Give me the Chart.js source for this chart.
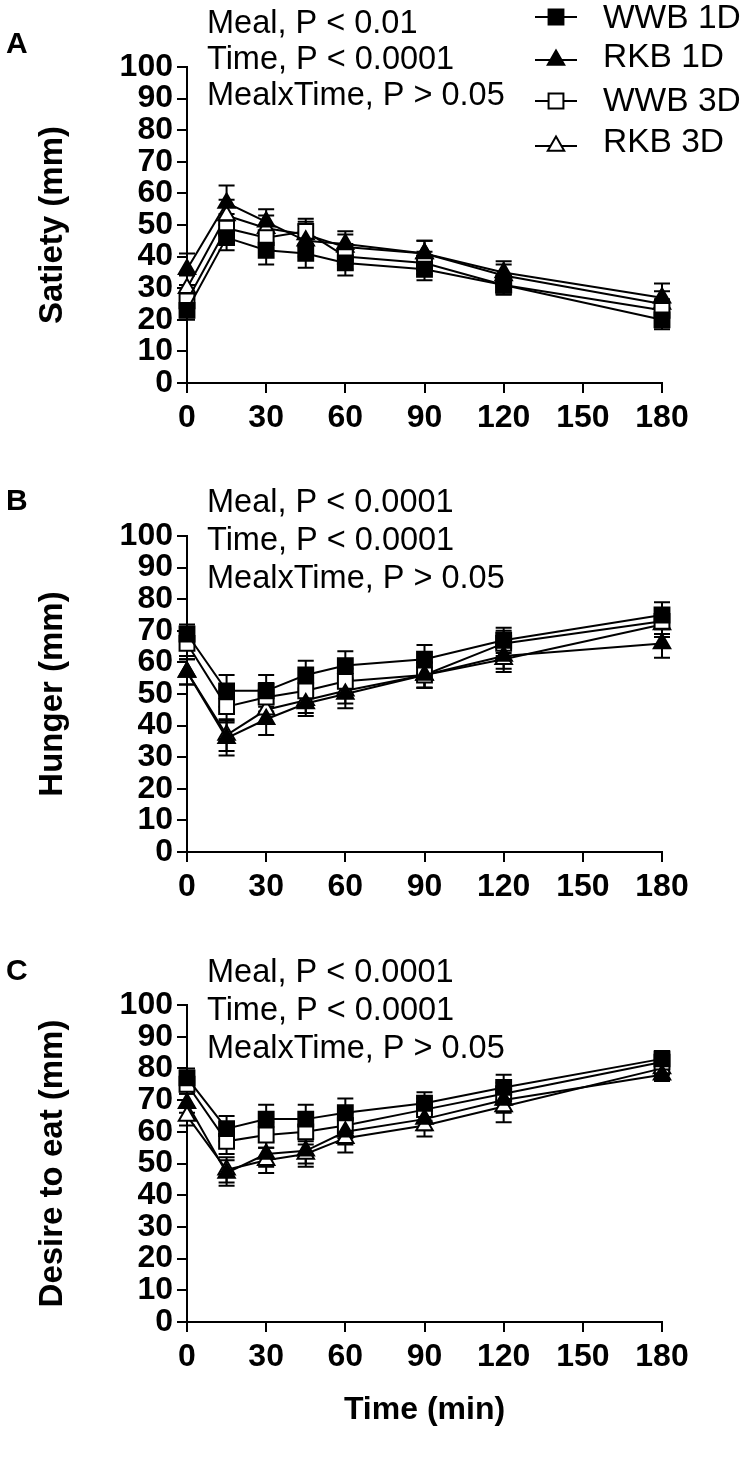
<!DOCTYPE html>
<html>
<head>
<meta charset="utf-8">
<script src="https://cdn.jsdelivr.net/npm/chart.js@4.4.1/dist/chart.umd.min.js"></script>
<style>
  html, body { margin: 0; padding: 0; background: #fff; }
  #wrap { position: relative; width: 746px; height: 1459px; }
  .panel { position: absolute; left: 0; width: 746px; }
</style>
</head>
<body>
<div id="wrap">
  <div class="panel" style="top:0;height:469px"><canvas id="chartA"></canvas></div>
  <div class="panel" style="top:469px;height:469px"><canvas id="chartB"></canvas></div>
  <div class="panel" style="top:938px;height:521px"><canvas id="chartC"></canvas></div>
</div>
<script>
// time points (min) and axis ticks
const times = [0, 15, 30, 45, 60, 90, 120, 180];
const xTicks = [0, 30, 60, 90, 120, 150, 180];
const yTicks = [0, 10, 20, 30, 40, 50, 60, 70, 80, 90, 100];
const seriesNames = ['WWB 1D', 'RKB 1D', 'WWB 3D', 'RKB 3D'];

// A - satiety (mean, SEM)
const satWWB1D = [23, 46, 42, 41, 38, 36, 31, 20];
const satRKB1D = [36, 57, 51, 45, 44, 41, 35, 27];
const satWWB3D = [26, 49, 46, 48, 40, 38, 31, 23];
const satRKB3D = [30, 53, 49, 47, 43, 41, 34, 25];
const satWWB1DSem = [3, 4, 4.5, 4.5, 4, 3.5, 3, 3];
const satRKB1DSem = [5, 5.5, 4, 5, 4, 4, 3.5, 4.5];
const satWWB3DSem = [4, 4.5, 4, 4, 4, 3.5, 3, 3.5];
const satRKB3DSem = [4, 5, 4, 4, 4, 4, 3.5, 4];

// B - hunger
const hunWWB1D = [69, 51, 51, 56, 59, 61, 67, 75];
const hunRKB1D = [57, 36, 42, 47, 50, 56, 62, 66];
const hunWWB3D = [66, 46, 49, 51, 54, 56, 66, 73];
const hunRKB3D = [57, 37, 45, 48, 51, 56, 61, 72];
const hunWWB1DSem = [3, 5, 5, 4.5, 4.5, 4.5, 4, 4];
const hunRKB1DSem = [4, 5.5, 5, 4, 4.5, 4, 4, 4.5];
const hunWWB3DSem = [4, 5, 4.5, 4, 4, 4, 4, 4];
const hunRKB3DSem = [4, 5, 4.5, 4, 4, 4, 4, 4];

// C - desire to eat
const desWWB1D = [77, 61, 64, 64, 66, 69, 74, 83];
const desRKB1D = [69, 47, 53, 54, 60, 64, 70, 78];
const desWWB3D = [75, 57, 59, 60, 62, 67, 72, 82];
const desRKB3D = [65, 48, 51, 53, 58, 62, 68, 80];
const desWWB1DSem = [3, 4, 4.5, 4.5, 4.5, 3.5, 4, 2.5];
const desRKB1DSem = [3, 4, 4, 4, 4, 3.5, 4, 2];
const desWWB3DSem = [3, 4, 4, 4, 4, 3.5, 3.5, 2.5];
const desRKB3DSem = [3, 4, 4, 4, 4.5, 3.5, 5, 2];

const statsA = ['Meal, P < 0.01', 'Time, P < 0.0001', 'MealxTime, P > 0.05'];
const statsB = ['Meal, P < 0.0001', 'Time, P < 0.0001', 'MealxTime, P > 0.05'];
const statsC = ['Meal, P < 0.0001', 'Time, P < 0.0001', 'MealxTime, P > 0.05'];

const fontFam = '"Liberation Sans", Arial, Helvetica, sans-serif';
const pointStyles = ['rect', 'triangle', 'rect', 'triangle'];
const pointFills = ['#000', '#000', '#fff', '#fff'];
const pointSizes = [10.5, 9.5, 10.5, 9.5];

// error bars, drawn under the lines and markers
const errorBars = {
  id: 'errorBars',
  beforeDatasetsDraw(chart) {
    const ctx = chart.ctx;
    const yScale = chart.scales.y;
    ctx.save();
    ctx.strokeStyle = '#000';
    ctx.lineWidth = 2;
    chart.data.datasets.forEach((ds, i) => {
      chart.getDatasetMeta(i).data.forEach((pt, j) => {
        const v = ds.data[j].y, e = ds.sem[j];
        const hi = yScale.getPixelForValue(v + e);
        const lo = yScale.getPixelForValue(v - e);
        ctx.beginPath();
        ctx.moveTo(pt.x, hi); ctx.lineTo(pt.x, lo);
        ctx.moveTo(pt.x - 8, hi); ctx.lineTo(pt.x + 8, hi);
        ctx.moveTo(pt.x - 8, lo); ctx.lineTo(pt.x + 8, lo);
        ctx.stroke();
      });
    });
    ctx.restore();
  }
};

// panel letter, stats text and the legend (panel A only)
const panelText = {
  id: 'panelText',
  afterDraw(chart, args, o) {
    const ctx = chart.ctx;
    ctx.save();
    ctx.fillStyle = '#000';
    ctx.textBaseline = 'alphabetic';
    ctx.font = 'bold 30px ' + fontFam;
    ctx.fillText(o.letter, 6, o.letterY);
    ctx.font = '32.5px ' + fontFam;
    o.stats.forEach((s, i) => ctx.fillText(s, 207, o.statsY[i]));
    if (o.legend) {
      ctx.font = '33.5px ' + fontFam;
      chart.data.datasets.forEach((ds, i) => {
        const y = o.legend.lineY[i];
        ctx.strokeStyle = '#000';
        ctx.lineWidth = 2;
        ctx.beginPath();
        ctx.moveTo(535, y); ctx.lineTo(577, y);
        ctx.stroke();
        ctx.fillStyle = ds.pointBackgroundColor;
        Chart.helpers.drawPoint(ctx, {
          pointStyle: ds.pointStyle, radius: ds.pointRadius, borderWidth: 2, rotation: 0
        }, 556, y);
        ctx.fillStyle = '#000';
        ctx.fillText(ds.label, 603, o.legend.textY[i]);
      });
    }
    ctx.restore();
  }
};

function makeDatasets(vals, sems) {
  return seriesNames.map((name, i) => ({
    label: name,
    data: times.map((t, j) => ({ x: t, y: vals[i][j] })),
    sem: sems[i],
    borderColor: '#000',
    borderWidth: 2,
    pointStyle: pointStyles[i],
    pointRadius: pointSizes[i],
    pointBackgroundColor: pointFills[i],
    pointBorderColor: '#000',
    pointBorderWidth: 2,
    tension: 0,
    clip: false
  }));
}

function makeChart(id, vals, sems, yTitle, textOpts, xHeight, showXTitle) {
  new Chart(document.getElementById(id), {
    type: 'line',
    data: { datasets: makeDatasets(vals, sems) },
    plugins: [errorBars, panelText],
    options: {
      responsive: true,
      maintainAspectRatio: false,
      animation: false,
      events: [],
      layout: { padding: { top: 67, right: 84, left: 0, bottom: 0 } },
      plugins: {
        legend: { display: false },
        tooltip: { enabled: false },
        panelText: textOpts
      },
      scales: {
        x: {
          type: 'linear',
          min: 0,
          max: 180,
          afterBuildTicks: s => { s.ticks = xTicks.map(v => ({ value: v })); },
          afterFit: s => { s.height = xHeight; },
          border: { display: true, color: '#000', width: 2 },
          grid: { drawOnChartArea: false, drawTicks: true, tickLength: 10, color: '#000', lineWidth: 2 },
          ticks: { autoSkip: false, maxRotation: 0, padding: 6, color: '#000',
                   font: { family: fontFam, size: 32, weight: 'bold' } },
          title: {
            display: showXTitle,
            text: 'Time (min)',
            color: '#000',
            font: { family: fontFam, size: 32, weight: 'bold' },
            padding: { top: 0, bottom: 30 }
          }
        },
        y: {
          min: 0,
          max: 100,
          afterBuildTicks: s => { s.ticks = yTicks.map(v => ({ value: v })); },
          afterFit: s => { s.width = 187; },
          border: { display: true, color: '#000', width: 2 },
          grid: { drawOnChartArea: false, drawTicks: true, tickLength: 10, color: '#000', lineWidth: 2 },
          ticks: { autoSkip: false, padding: 4, color: '#000',
                   font: { family: fontFam, size: 32, weight: 'bold' } },
          title: {
            display: true,
            text: yTitle,
            color: '#000',
            font: { family: fontFam, size: 33, weight: 'bold' },
            padding: { top: 33, bottom: 0 }
          }
        }
      }
    }
  });
}

makeChart('chartA',
  [satWWB1D, satRKB1D, satWWB3D, satRKB3D],
  [satWWB1DSem, satRKB1DSem, satWWB3DSem, satRKB3DSem],
  'Satiety (mm)',
  { letter: 'A', letterY: 53, stats: statsA, statsY: [33, 69, 105],
    legend: { lineY: [17, 60, 101, 146], textY: [28, 67, 111, 152] } },
  86, false);

makeChart('chartB',
  [hunWWB1D, hunRKB1D, hunWWB3D, hunRKB3D],
  [hunWWB1DSem, hunRKB1DSem, hunWWB3DSem, hunRKB3DSem],
  'Hunger (mm)',
  { letter: 'B', letterY: 41, stats: statsB, statsY: [43, 81, 119] },
  86, false);

makeChart('chartC',
  [desWWB1D, desRKB1D, desWWB3D, desRKB3D],
  [desWWB1DSem, desRKB1DSem, desWWB3DSem, desRKB3DSem],
  'Desire to eat (mm)',
  { letter: 'C', letterY: 42, stats: statsC, statsY: [44, 82, 120] },
  137, true);
</script>
</body>
</html>
